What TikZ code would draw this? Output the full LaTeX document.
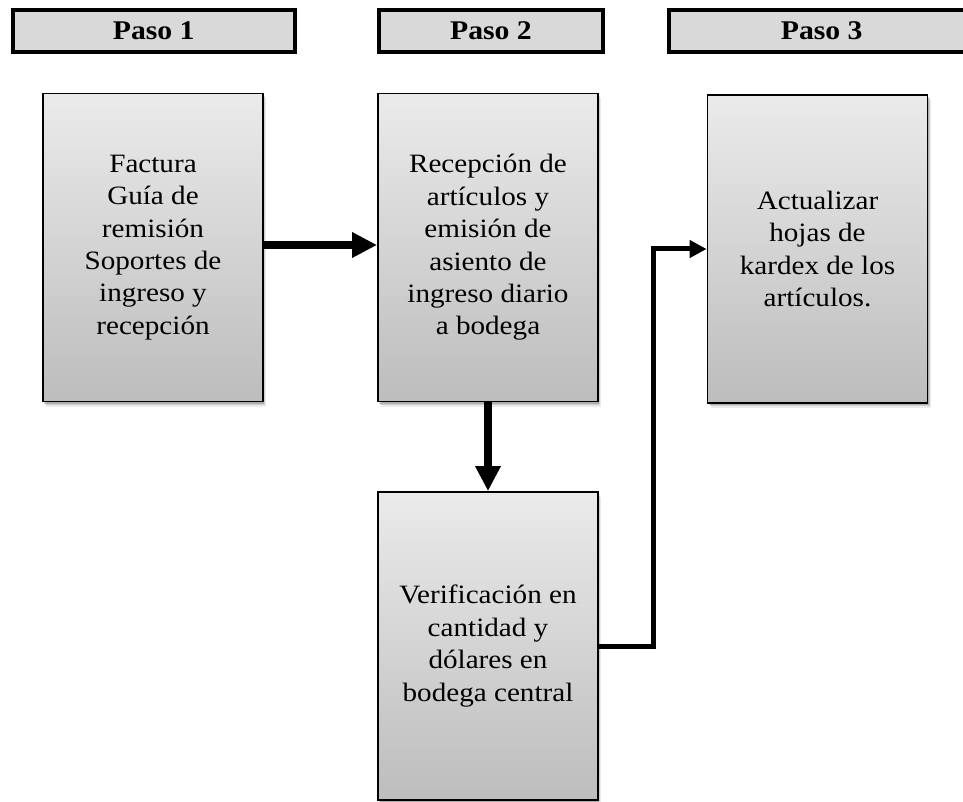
\documentclass[tikz,border=0pt]{standalone}
\usepackage{fontspec}
\setmainfont[FakeStretch=1.1]{Liberation Serif}
\usetikzlibrary{arrows.meta,shadows}
\begin{document}
\begin{tikzpicture}[x=1pt,y=-1pt,
  header/.style={draw=black,line width=4pt,fill=black!15,minimum height=42pt,inner sep=0pt,
    font=\fontsize{27}{30}\selectfont\bfseries},
  procbox/.style={draw=black,line width=1.8pt,top color=black!8,bottom color=black!26,
    minimum width=220pt,minimum height=308pt,inner sep=0pt,align=center,
    font=\fontsize{26.5}{32.4}\selectfont,
    drop shadow={shadow xshift=2pt,shadow yshift=-3pt,opacity=.12,fill=black},
    drop shadow={shadow xshift=3pt,shadow yshift=-5pt,opacity=.08,fill=black},
    drop shadow={shadow xshift=1pt,shadow yshift=-2pt,opacity=.15,fill=black}},
  bigarrow/.style={line width=8pt,-{Triangle[length=25pt,width=24pt]}},
  thinarrow/.style={line width=5pt,-{Triangle[length=17pt,width=17pt]}}]
\useasboundingbox (0,0) rectangle (963,802);
% headers
\node[header,minimum width=282.5pt] (h1) at (153.75,31) {Paso 1};
\node[header,minimum width=224pt] (h2) at (491,31) {Paso 2};
\node[header,minimum width=306.5pt] (h3) at (821.75,31) {Paso 3};
% boxes
\node[procbox] (b1) at (153,247.5) {Factura\\Guía de\\remisión\\Soportes de\\ingreso y\\recepción};
\node[procbox] (b2) at (488,247.5) {Recepción de\\artículos y\\emisión de\\asiento de\\ingreso diario\\a bodega};
\node[procbox] (b3) at (817.5,249) {Actualizar\\hojas de\\kardex de los\\artículos.};
\node[procbox] (b4) at (488,646) {Verificación en\\cantidad y\\dólares en\\bodega central};
% connectors
\draw[bigarrow] ([yshift=2.5pt]b1.east) -- ([yshift=2.5pt]b2.west);
\draw[bigarrow] (b2.south) -- (b4.north);
\coordinate (turn) at (653,646);
\draw[thinarrow,line join=miter] (b4.east) -- (turn) |- (b3.west);
\end{tikzpicture}
\end{document}
